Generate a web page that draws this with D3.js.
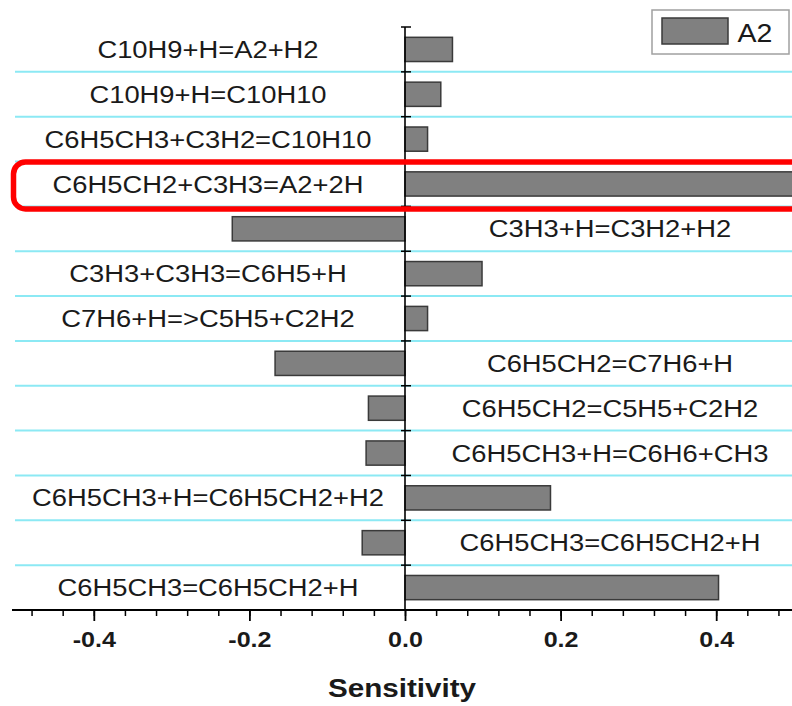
<!DOCTYPE html>
<html>
<head>
<meta charset="utf-8">
<script src="https://cdn.jsdelivr.net/npm/d3@7"></script>
<style>
  body { margin: 0; background: #fff; }
  svg { display: block; font-family: "Liberation Sans", Arial, sans-serif; }
</style>
</head>
<body>
<svg class="target" width="792" height="706"></svg>
<script>

// reactions, top to bottom, as in the picture
reactions = [
  'C10H9+H=A2+H2',
  'C10H9+H=C10H10',
  'C6H5CH3+C3H2=C10H10',
  'C6H5CH2+C3H3=A2+2H',
  'C3H3+H=C3H2+H2',
  'C3H3+C3H3=C6H5+H',
  'C7H6+H=>C5H5+C2H2',
  'C6H5CH2=C7H6+H',
  'C6H5CH2=C5H5+C2H2',
  'C6H5CH3+H=C6H6+CH3',
  'C6H5CH3+H=C6H5CH2+H2',
  'C6H5CH3=C6H5CH2+H',
  'C6H5CH3=C6H5CH2+H'
]

// A2 sensitivity coefficients (row 4 runs off the right edge)
sensitivity = [0.061, 0.046, 0.029, 0.56, -0.222, 0.099, 0.029, -0.167, -0.047, -0.050, 0.187, -0.055, 0.403]

highlighted = 3          // row boxed in red
seriesName = 'A2'
xTitle = 'Sensitivity'
majorTicks = [-0.4, -0.2, 0.0, 0.2, 0.4]
minorTicks = d3.range(-12, 13).map(i => i * 0.04)

width = 792
height = 706
stretch = 1.14   // the original figure is slightly widened

xScale = d3.scaleLinear([-0.5, 0.5], [16, 794])
yScale = d3.scaleBand(d3.range(reactions.length), [27, 610])
bw = yScale.bandwidth()

const svg = d3.select('.target')

// label helper: text widened like the source
function label(sel, x, y, txt, size, weight) {
  sel.append('g')
      .attr('transform', `translate(${x},${y}) scale(${stretch},1)`)
    .append('text')
      .attr('text-anchor', 'middle')
      .style('font-size', size + 'px')
      .style('font-weight', weight || 'normal')
      .style('fill', '#1a1a1a')
      .text(txt)
}

// cyan row separators
svg.append('g')
  .selectAll('line')
  .data(d3.range(1, reactions.length))
  .join('line')
    .attr('x1', 15)
    .attr('x2', width)
    .attr('y1', i => yScale(i))
    .attr('y2', i => yScale(i))
    .style('stroke', '#8ce9f4')
    .style('stroke-width', 2)

// bars
svg.append('g')
  .selectAll('rect')
  .data(sensitivity)
  .join('rect')
    .attr('x', d => xScale(Math.min(0, d)))
    .attr('width', d => Math.abs(xScale(d) - xScale(0)))
    .attr('y', (d, i) => yScale(i) + bw / 2 - bw * 0.27)
    .attr('height', bw * 0.54)
    .style('fill', '#808080')
    .style('stroke', '#3a3a3a')
    .style('stroke-width', 1.5)

// reaction names: left of zero for positive bars, right for negative
const labels = svg.append('g')
sensitivity.forEach((d, i) => {
  const cx = d >= 0 ? 208 : 610
  label(labels, cx, yScale(i) + bw / 2 + 8.6, reactions[i], 24)
})

// zero line with row ticks
svg.append('line')
    .attr('x1', xScale(0)).attr('x2', xScale(0))
    .attr('y1', yScale.range()[0]).attr('y2', yScale.range()[1])
    .style('stroke', '#000')
    .style('stroke-width', 1.6)
svg.append('g')
  .selectAll('line')
  .data(d3.range(0, reactions.length))
  .join('line')
    .attr('x1', xScale(0) - 4)
    .attr('x2', xScale(0) + 6)
    .attr('y1', i => yScale(i))
    .attr('y2', i => yScale(i))
    .style('stroke', '#000')
    .style('stroke-width', 1.5)

// x axis: minor then major ticks
const axisY = yScale.range()[1]

svg.append('g')
    .attr('transform', `translate(0,${axisY})`)
    .call(d3.axisBottom(xScale).tickValues(minorTicks).tickSize(6).tickFormat(''))
    .call(g => g.select('.domain').remove())
    .call(g => g.selectAll('line').style('stroke-width', 1.5))

svg.append('g')
    .attr('transform', `translate(0,${axisY})`)
    .call(d3.axisBottom(xScale).tickValues(majorTicks).tickSize(11).tickPadding(10)
      .tickFormat(d => d.toFixed(1)))
    .call(g => g.select('.domain').remove())
    .call(g => g.selectAll('line').style('stroke-width', 1.8))
    .call(g => g.selectAll('text')
      .attr('transform', `scale(${stretch},1)`)
      .style('font-family', '"Liberation Sans", Arial, sans-serif')
      .style('font-size', '22px')
      .style('font-weight', 'bold')
      .style('fill', '#1a1a1a'))

svg.append('line')
    .attr('x1', 12).attr('x2', width)
    .attr('y1', axisY).attr('y2', axisY)
    .style('stroke', '#000')
    .style('stroke-width', 2)

label(svg, 402, 697, xTitle, 26, 'bold')

// legend
const legend = svg.append('g')
legend.append('rect')
    .attr('x', 652).attr('y', 10)
    .attr('width', 137).attr('height', 44)
    .style('fill', '#fff')
    .style('stroke', '#a0a0a0')
    .style('stroke-width', 1.5)
legend.append('rect')
    .attr('x', 662).attr('y', 18)
    .attr('width', 66).attr('height', 26)
    .style('fill', '#808080')
    .style('stroke', '#3a3a3a')
    .style('stroke-width', 1.5)
label(legend, 755, 41.5, seriesName, 25)

// red highlight box round the key reaction
svg.append('rect')
    .attr('x', 13.5)
    .attr('y', yScale(highlighted) + 0.5)
    .attr('width', 800)
    .attr('height', bw + 2)
    .attr('rx', 12)
    .style('fill', 'none')
    .style('stroke', '#ff0000')
    .style('stroke-width', 5.5)

</script>
</body>
</html>
